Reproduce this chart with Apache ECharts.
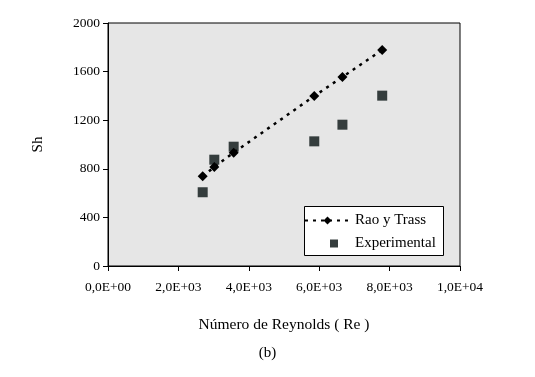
<!DOCTYPE html>
<html>
<head>
<meta charset="utf-8">
<script src="https://cdn.jsdelivr.net/npm/echarts@6/dist/echarts.min.js"></script>
<style>
  html, body { margin: 0; padding: 0; background: #fff; }
  #chart { width: 535px; height: 377px; }
</style>
</head>
<body>
<div id="chart"></div>
<script>
// valores
const reynolds = [2690, 3020, 3570, 5860, 6660, 7790];
const shRaoTrass = [738, 815, 933, 1399, 1556, 1778];
const shExperimental = [607, 875, 982, 1026, 1163, 1402];
const xTicks = ['0,0E+00', '2,0E+03', '4,0E+03', '6,0E+03', '8,0E+03', '1,0E+04'];

const serif = 'Liberation Serif';
let myChart = echarts.init(document.getElementById('chart'));

myChart.setOption({
  animation: false,
  textStyle: { fontFamily: serif, color: '#000' },
  grid: {
    left: 108, right: 75, top: 23, bottom: 111,
    show: true, backgroundColor: '#e6e6e6', borderColor: '#000', borderWidth: 1
  },
  xAxis: {
    type: 'value', min: 0, max: 10000, interval: 2000,
    name: 'Número de Reynolds ( Re )', nameLocation: 'middle', nameGap: 51,
    nameTextStyle: { fontFamily: serif, fontSize: 15.5, color: '#000' },
    axisLine: { lineStyle: { color: '#000' } },
    axisTick: { show: true, length: 5, lineStyle: { color: '#000' } },
    axisLabel: {
      fontFamily: serif, fontSize: 13.5, color: '#000', margin: 14,
      formatter: v => xTicks[Math.round(v / 2000)]
    },
    splitLine: { show: false }
  },
  yAxis: {
    type: 'value', min: 0, max: 2000, interval: 400,
    name: 'Sh', nameLocation: 'middle', nameGap: 62, nameRotate: 90,
    nameTextStyle: { fontFamily: serif, fontSize: 15, color: '#000' },
    axisLine: { show: true, lineStyle: { color: '#000' } },
    axisTick: { show: true, length: 5, lineStyle: { color: '#000' } },
    axisLabel: { fontFamily: serif, fontSize: 13.5, color: '#000', margin: 8, formatter: v => String(v) },
    splitLine: { show: false }
  },
  legend: [
    {
      left: 304, top: 213, itemWidth: 45, itemHeight: 10, itemGap: 5, padding: 0,
      textStyle: { fontFamily: serif, fontSize: 15, color: '#000' },
      data: ['Rao y Trass']
    },
    {
      left: 330, top: 236, itemWidth: 8, itemHeight: 8, itemGap: 18, padding: 0,
      textStyle: { fontFamily: serif, fontSize: 15, color: '#000', padding: [0, 0, 0, 12] },
      data: ['Experimental']
    }
  ],
  graphic: [
    {
      type: 'rect', shape: { x: 304.5, y: 206.5, width: 139, height: 49 }, z: 0,
      style: { fill: '#fff', stroke: '#000', lineWidth: 1 }
    },
    {
      type: 'text', left: 'center', top: 346,
      style: { text: '(b)', fontFamily: serif, fontSize: 15, fill: '#000' }
    }
  ],
  series: [
    {
      name: 'Rao y Trass', type: 'line',
      data: reynolds.map((x, i) => [x, shRaoTrass[i]]),
      symbol: 'diamond', symbolSize: 10,
      itemStyle: { color: '#000' },
      lineStyle: { color: '#000', width: 2.5, type: [3, 5] }
    },
    {
      name: 'Experimental', type: 'scatter',
      data: reynolds.map((x, i) => [x, shExperimental[i]]),
      symbol: 'rect', symbolSize: 10,
      itemStyle: { color: '#353d3d', opacity: 1 }
    }
  ]
});
</script>
</body>
</html>
